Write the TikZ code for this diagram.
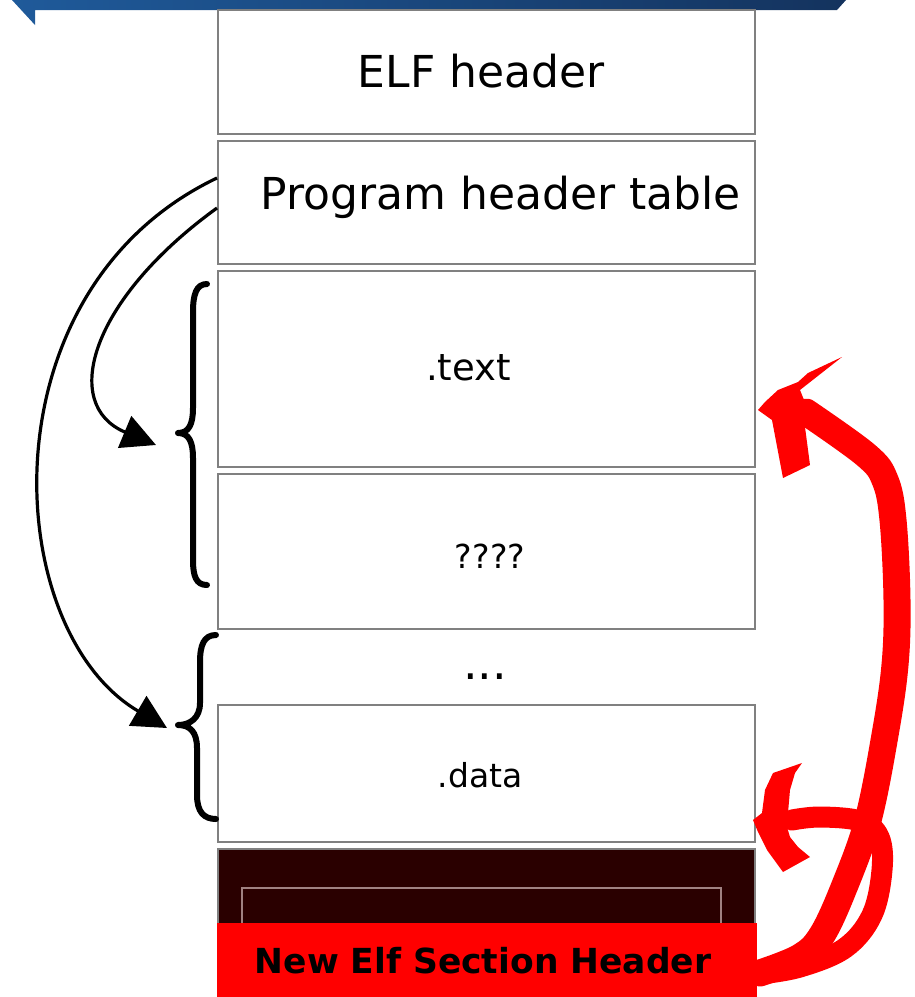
\documentclass[tikz,border=0pt]{standalone}
\usepackage{fontspec}
\setmainfont{DejaVu Sans}
\usetikzlibrary{arrows.meta}
\definecolor{boxgray}{HTML}{808080}
\definecolor{banL}{HTML}{1F5A9A}
\definecolor{banR}{HTML}{14335E}
\definecolor{darkred}{HTML}{2A0000}
\definecolor{hred}{HTML}{FF0000}
\tikzset{
  secbox/.style={draw=boxgray, line width=1.5pt, fill=white},
  lbl/.style={anchor=base, inner sep=0pt, text=black},
  brace/.style={draw=black, line width=6pt, line cap=round, line join=round},
  ptr/.style={draw=black, line width=3.2pt, -{Triangle[length=34pt,width=34pt]}},
  redstroke/.style={draw=hred, line cap=round, line join=round},
}
\begin{document}
\begin{tikzpicture}[x=1pt,y=-1pt]
\useasboundingbox (0,0) rectangle (915,997);
% banner
\shade[left color=banL, right color=banR] (12,0) -- (846,0) -- (837,10) -- (35,10) -- (35,25) -- cycle;
% section boxes
\draw[secbox] (218,10) rectangle (755,134);
\draw[secbox] (218,141) rectangle (755,264);
\draw[secbox] (218,271) rectangle (755,467);
\draw[secbox] (218,474) rectangle (755,629);
\draw[secbox] (218,705) rectangle (755,842);
% dark section header block
\draw[boxgray, line width=1.5pt, fill=darkred] (218,849) rectangle (755,1000);
\draw[draw={rgb,255:red,160;green,130;blue,130}, line width=1.2pt] (242,888) rectangle (721,960);
\fill[hred] (217,923) rectangle (757,997);
% labels
\node[lbl, font=\fontsize{44}{50}\selectfont] (elf) at (481,87) {ELF header};
\node[lbl, font=\fontsize{44}{50}\selectfont] (pht) at (501,209) {Program header table};
\node[lbl, font=\fontsize{37}{42}\selectfont] (text) at (468.5,380) {.text};
\node[lbl, font=\fontsize{33}{38}\selectfont] (unk) at (490,568) {????};
\node[lbl, font=\fontsize{46}{50}\selectfont] (dots) at (485,679) {...};
\node[lbl, font=\fontsize{33}{38}\selectfont] (data) at (480,787) {.data};
\node[lbl, font=\bfseries\fontsize{34.5}{40}\selectfont] (nesh) at (483,973) {New Elf Section Header};
% braces
\draw[brace] (207,284) .. controls (196,284) and (193,295) .. (193,312) -- (193,408)
  .. controls (193,424) and (189,433) .. (178,433)
  .. controls (189,433) and (193,442) .. (193,458) -- (193,560)
  .. controls (193,576) and (196,585) .. (207,585);
\coordinate (b1) at (178,433);
\draw[brace] (216,635) .. controls (204,635) and (200,645) .. (200,662) -- (200,703)
  .. controls (200,718) and (190,725) .. (178,725)
  .. controls (190,725) and (197,732) .. (197,748) -- (197,795)
  .. controls (197,812) and (204,819) .. (216,819);
\coordinate (b2) at (178,725);
% pointers from program header table
\coordinate (p1) at (217,208);
\coordinate (p2) at (217,178);
\coordinate (t1) at (156,445);
\coordinate (t2) at (167,728);
\draw[ptr] (p1) .. controls (90,300) and (60,405) .. (t1);
\draw[ptr] (p2) .. controls (-18,290) and (0,630) .. (t2);
% red hand-drawn arrows
\draw[redstroke, line width=21pt] plot[smooth, tension=0.6] coordinates
  {(760,974) (800,967) (845,948) (872,915) (882,870) (879,837) (860,821) (820,817) (792,820)};
\draw[redstroke, line width=27pt] plot[smooth, tension=0.6] coordinates
  {(760,973) (800,957) (822,935) (845,885) (868,820) (885,735) (895,665) (897,600) (893,520) (885,480) (866,455) (806,412)};
\fill[hred] (842,357) -- (808,373) -- (798,382) -- (778,390) -- (765,402) -- (758,410)
  -- (772,420) -- (783,478) -- (810,465) -- (805,427) -- (812,420) -- (800,390) -- cycle;
\fill[hred] (802,763) -- (773,773) -- (765,790) -- (762,813) -- (753,820) -- (758,832)
  -- (767,850) -- (783,872) -- (810,857) -- (798,847) -- (790,837) -- (787,827)
  -- (788,813) -- (790,790) -- (795,773) -- cycle;
\end{tikzpicture}
\end{document}
